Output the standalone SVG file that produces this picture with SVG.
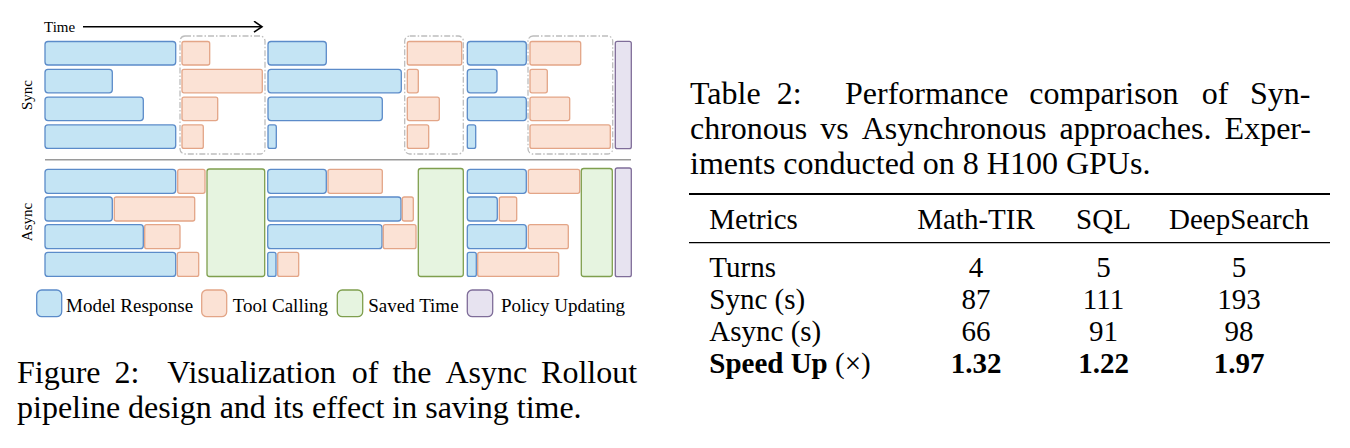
<svg xmlns="http://www.w3.org/2000/svg" width="1350" height="448" viewBox="0 0 1350 448">
<style>
text{font-family:"Liberation Serif","Times New Roman",serif;fill:#000}
.mr{fill:#c4e4f4;stroke:#5b8bc9;stroke-width:1.3}
.tc{fill:#fbe2d5;stroke:#e3a587;stroke-width:1.3}
.st{fill:#e6f4e0;stroke:#7f9f4e;stroke-width:1.3}
.pu{fill:#e7e3f0;stroke:#7f6d99;stroke-width:1.3}
.db{fill:none;stroke:#bdbdbd;stroke-width:1.3;stroke-dasharray:6 2 1.5 2}
.lbl{font-size:15px}
.leg{font-size:19px}
.cap{font-size:32px}
.tb{font-size:29px}
.b{font-weight:bold}
.rule{stroke:#000}
</style>
<defs>
<marker id="chev" markerWidth="12" markerHeight="12" refX="10" refY="6" orient="auto" markerUnits="userSpaceOnUse">
<path d="M2,0.5 L10,6 L2,11.5" fill="none" stroke="#000" stroke-width="1.6"/>
</marker>
</defs>

<g id="connectors">
<line x1="83" y1="26.7" x2="262" y2="26.7" stroke="#000" stroke-width="1.5" marker-end="url(#chev)"/>
</g>
<g id="time-label"><text class="lbl" x="44" y="31.5">Time</text></g>
<g id="sync-label"><text class="lbl" transform="translate(32,95) rotate(-90)" text-anchor="middle">Sync</text></g>
<g id="async-label"><text class="lbl" transform="translate(32,222) rotate(-90)" text-anchor="middle">Async</text></g>

<g id="sync-wait-1"><rect class="db" x="180" y="36" width="85" height="118" rx="5"/></g>
<g id="sync-wait-2"><rect class="db" x="404.7" y="36" width="58.6" height="118" rx="5"/></g>
<g id="sync-wait-3"><rect class="db" x="528" y="36" width="84.7" height="118" rx="5"/></g>

<g id="sync-row1">
<rect class="mr" x="45" y="41.5" width="130.7" height="23.5" rx="3"/>
<rect class="tc" x="182" y="41.5" width="27.7" height="23.5" rx="2"/>
<rect class="mr" x="268" y="41.5" width="58.3" height="23.5" rx="3"/>
<rect class="tc" x="407.3" y="41.5" width="54.4" height="23.5" rx="2"/>
<rect class="mr" x="467.3" y="41.5" width="59" height="23.5" rx="3"/>
<rect class="tc" x="530" y="41.5" width="50.7" height="23.5" rx="2"/>
</g>
<g id="sync-row2">
<rect class="mr" x="45" y="69.3" width="67.3" height="23.5" rx="3"/>
<rect class="tc" x="182" y="69.3" width="80.3" height="23.5" rx="2"/>
<rect class="mr" x="268" y="69.3" width="133.3" height="23.5" rx="3"/>
<rect class="tc" x="407.3" y="69.3" width="11" height="23.5" rx="2"/>
<rect class="mr" x="467.3" y="69.3" width="29.7" height="23.5" rx="3"/>
<rect class="tc" x="530" y="69.3" width="17.3" height="23.5" rx="2"/>
</g>
<g id="sync-row3">
<rect class="mr" x="45" y="97.1" width="98.3" height="23.5" rx="3"/>
<rect class="tc" x="182" y="97.1" width="35.7" height="23.5" rx="2"/>
<rect class="mr" x="268" y="97.1" width="114.3" height="23.5" rx="3"/>
<rect class="tc" x="407.3" y="97.1" width="32" height="23.5" rx="2"/>
<rect class="mr" x="467.3" y="97.1" width="59" height="23.5" rx="3"/>
<rect class="tc" x="530" y="97.1" width="39.7" height="23.5" rx="2"/>
</g>
<g id="sync-row4">
<rect class="mr" x="45" y="124.9" width="130.7" height="23.5" rx="3"/>
<rect class="tc" x="182" y="124.9" width="21.3" height="23.5" rx="2"/>
<rect class="mr" x="268" y="124.9" width="8.3" height="23.5" rx="2"/>
<rect class="tc" x="407.3" y="124.9" width="21.4" height="23.5" rx="2"/>
<rect class="mr" x="467.3" y="124.9" width="8.4" height="23.5" rx="2"/>
<rect class="tc" x="530" y="124.9" width="80.3" height="23.5" rx="2"/>
</g>
<g id="sync-policy"><rect class="pu" x="615.3" y="41.3" width="16" height="107.4" rx="2"/></g>

<g id="separator"><line x1="45" y1="159.7" x2="631" y2="159.7" stroke="#9a9a9a" stroke-width="1.5"/></g>

<g id="async-row1">
<rect class="mr" x="45" y="169.3" width="130.7" height="24" rx="3"/>
<rect class="tc" x="177.7" y="169.3" width="27.3" height="24" rx="2"/>
<rect class="mr" x="267.7" y="169.3" width="58.6" height="24" rx="3"/>
<rect class="tc" x="328" y="169.3" width="54.3" height="24" rx="2"/>
<rect class="mr" x="467.3" y="169.3" width="59" height="24" rx="3"/>
<rect class="tc" x="528.3" y="169.3" width="51.4" height="24" rx="2"/>
</g>
<g id="async-row2">
<rect class="mr" x="45" y="197" width="67.3" height="24" rx="3"/>
<rect class="tc" x="114.3" y="197" width="80.4" height="24" rx="2"/>
<rect class="mr" x="267.7" y="197" width="133.3" height="24" rx="3"/>
<rect class="tc" x="402.3" y="197" width="11" height="24" rx="2"/>
<rect class="mr" x="467.3" y="197" width="30" height="24" rx="3"/>
<rect class="tc" x="499.3" y="197" width="17.4" height="24" rx="2"/>
</g>
<g id="async-row3">
<rect class="mr" x="45" y="224.7" width="98.3" height="24" rx="3"/>
<rect class="tc" x="144.7" y="224.7" width="35.3" height="24" rx="2"/>
<rect class="mr" x="267.7" y="224.7" width="114.3" height="24" rx="3"/>
<rect class="tc" x="383.3" y="224.7" width="32.7" height="24" rx="2"/>
<rect class="mr" x="467.3" y="224.7" width="59" height="24" rx="3"/>
<rect class="tc" x="528.3" y="224.7" width="40" height="24" rx="2"/>
</g>
<g id="async-row4">
<rect class="mr" x="45" y="252.4" width="130.7" height="24" rx="3"/>
<rect class="tc" x="177.3" y="252.4" width="21.4" height="24" rx="2"/>
<rect class="mr" x="267.7" y="252.4" width="8.3" height="24" rx="2"/>
<rect class="tc" x="277.7" y="252.4" width="21" height="24" rx="2"/>
<rect class="mr" x="467.3" y="252.4" width="9" height="24" rx="2"/>
<rect class="tc" x="477.7" y="252.4" width="81" height="24" rx="2"/>
</g>
<g id="saved-1"><rect class="st" x="207" y="169" width="57.7" height="107.5" rx="2.5"/></g>
<g id="saved-2"><rect class="st" x="418.3" y="168.5" width="45" height="108" rx="2.5"/></g>
<g id="saved-3"><rect class="st" x="581.3" y="168.5" width="31" height="108" rx="2.5"/></g>
<g id="async-policy"><rect class="pu" x="615.3" y="168" width="16" height="108.7" rx="2"/></g>

<g id="legend-model"><rect class="mr" x="36.7" y="290" width="25" height="26.7" rx="5"/><text class="leg" x="66" y="311.7">Model Response</text></g>
<g id="legend-tool"><rect class="tc" x="201.7" y="290" width="25" height="26.7" rx="5"/><text class="leg" x="232.7" y="311.7">Tool Calling</text></g>
<g id="legend-saved"><rect class="st" x="337.3" y="290" width="25.4" height="26.7" rx="5"/><text class="leg" x="368.3" y="311.7">Saved Time</text></g>
<g id="legend-policy"><rect class="pu" x="467.3" y="290" width="25.4" height="26.7" rx="5"/><text class="leg" x="501" y="311.7">Policy Updating</text></g>

<g id="figure-caption">
<text class="cap" y="383"><tspan x="17">Figure</tspan><tspan x="114.5">2:</tspan><tspan x="167.2">Visualization</tspan><tspan x="351.8">of</tspan><tspan x="392.4">the</tspan><tspan x="445.4">Async</tspan><tspan x="541.1">Rollout</tspan></text>
<text class="cap" x="17" y="417.5">pipeline design and its effect in saving time.</text>
</g>

<g id="table-caption">
<text class="cap" y="104"><tspan x="690">Table</tspan><tspan x="776.7">2:</tspan><tspan x="845">Performance</tspan><tspan x="1029.3">comparison</tspan><tspan x="1201.7">of</tspan><tspan x="1250">Syn-</tspan></text>
<text class="cap" y="139"><tspan x="690">chronous</tspan><tspan x="820.3">vs</tspan><tspan x="861.7">Asynchronous</tspan><tspan x="1059.6">approaches.</tspan><tspan x="1224.6">Exper-</tspan></text>
<text class="cap" x="690" y="173.5">iments conducted on 8 H100 GPUs.</text>
</g>

<g id="table">
<line class="rule" x1="689" y1="194" x2="1330" y2="194" stroke-width="2"/>
<line class="rule" x1="689" y1="242.7" x2="1330" y2="242.7" stroke-width="1.3"/>
<text class="tb" x="709.3" y="228.5">Metrics</text>
<text class="tb" x="976" y="228.5" text-anchor="middle">Math-TIR</text>
<text class="tb" x="1103.5" y="228.5" text-anchor="middle">SQL</text>
<text class="tb" x="1239" y="228.5" text-anchor="middle">DeepSearch</text>
<text class="tb" x="709.3" y="277">Turns</text>
<text class="tb" x="976" y="277" text-anchor="middle">4</text>
<text class="tb" x="1103.5" y="277" text-anchor="middle">5</text>
<text class="tb" x="1239" y="277" text-anchor="middle">5</text>
<text class="tb" x="709.3" y="309">Sync (s)</text>
<text class="tb" x="976" y="309" text-anchor="middle">87</text>
<text class="tb" x="1103.5" y="309" text-anchor="middle">111</text>
<text class="tb" x="1239" y="309" text-anchor="middle">193</text>
<text class="tb" x="709.3" y="341">Async (s)</text>
<text class="tb" x="976" y="341" text-anchor="middle">66</text>
<text class="tb" x="1103.5" y="341" text-anchor="middle">91</text>
<text class="tb" x="1239" y="341" text-anchor="middle">98</text>
<text class="tb" x="709.3" y="373"><tspan class="b">Speed Up</tspan> (×)</text>
<text class="tb b" x="976" y="373" text-anchor="middle">1.32</text>
<text class="tb b" x="1103.5" y="373" text-anchor="middle">1.22</text>
<text class="tb b" x="1239" y="373" text-anchor="middle">1.97</text>
</g>
</svg>
